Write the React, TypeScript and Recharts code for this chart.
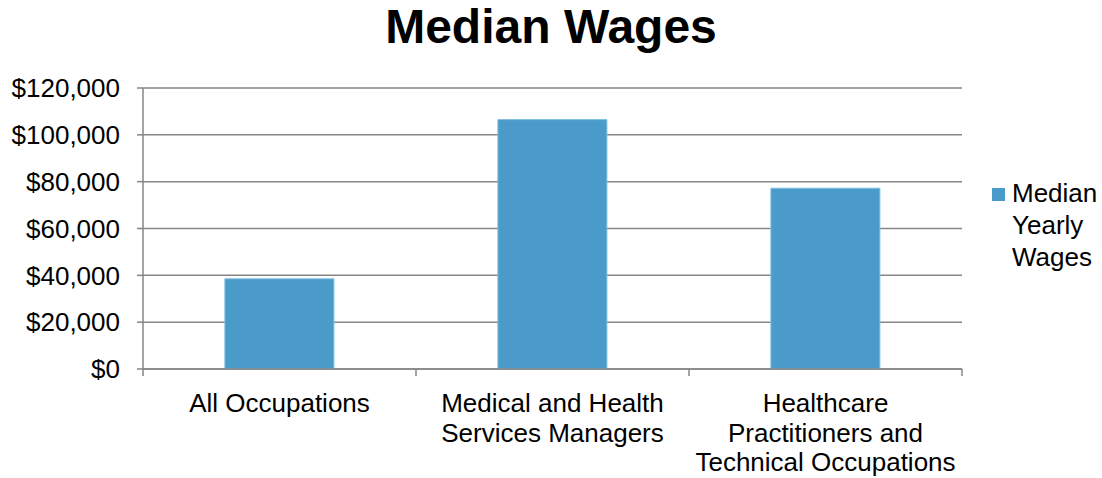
import React from "react";
import { Bar, BarChart, CartesianGrid, XAxis, YAxis } from "recharts";

const categories = [
  "All Occupations",
  "Medical and Health Services Managers",
  "Healthcare Practitioners and Technical Occupations",
];

// wrapped lines as they appear under the axis
const categoryLines = [
  ["All Occupations"],
  ["Medical and Health", "Services Managers"],
  ["Healthcare", "Practitioners and", "Technical Occupations"],
];

const medianWages = [38500, 106500, 77200];

const yTicks = [0, 20000, 40000, 60000, 80000, 100000, 120000];

const seriesName = "Median Yearly Wages";

const FONT = "'Liberation Sans', Arial, sans-serif";
const GRAY = "#868686";
const BLUE = "#4a9bca";

const chartData = categories.map((name, i) => ({
  name,
  value: medianWages[i],
}));

// label lines plus the tick marks that sit on the category boundaries
function CategoryTick(props: any) {
  const { x, y, payload, index } = props;
  const lines = categoryLines[index] || [payload.value];
  const half = payload.offset || 0;
  const isLast = index === categories.length - 1;
  return (
    <g>
      <line x1={x - half} x2={x - half} y1={y} y2={y + 7} stroke={GRAY} strokeWidth={1.5} />
      {isLast && (
        <line x1={x + half} x2={x + half} y1={y} y2={y + 7} stroke={GRAY} strokeWidth={1.5} />
      )}
      {lines.map((line: string, i: number) => (
        <text
          key={i}
          x={x}
          y={y + 43 + i * 29.5}
          textAnchor="middle"
          fontSize={26}
          fontFamily={FONT}
          fill="#000"
        >
          {line}
        </text>
      ))}
    </g>
  );
}

export default function App() {
  return (
    <div
      style={{
        position: "absolute",
        left: 0,
        top: 0,
        width: 1102,
        height: 478,
        background: "#fff",
      }}
    >
      <div
        style={{
          position: "absolute",
          left: 0,
          top: -1,
          width: 1102,
          textAlign: "center",
          fontFamily: FONT,
          fontWeight: "bold",
          fontSize: 48,
          color: "#000",
        }}
      >
        Median Wages
      </div>
      <div
        style={{
          position: "absolute",
          left: 992,
          top: 177,
          display: "flex",
          fontFamily: FONT,
          fontSize: 26,
          color: "#000",
        }}
      >
        <div
          style={{
            width: 13,
            height: 13,
            background: BLUE,
            marginTop: 11,
            marginRight: 7,
          }}
        />
        <div style={{ lineHeight: "32px", width: 100 }}>
          Median
          <br />
          Yearly
          <br />
          Wages
        </div>
      </div>
      <BarChart
        width={1102}
        height={478}
        data={chartData}
        margin={{ top: 88, right: 140, left: 0, bottom: 0 }}
        barCategoryGap="30%"
        style={{ position: "absolute", left: 0, top: 0 }}
      >
        <CartesianGrid vertical={false} stroke={GRAY} strokeWidth={1.5} />
        <XAxis
          dataKey="name"
          tick={<CategoryTick />}
          interval={0}
          height={109}
          tickSize={0}
          tickMargin={0}
          axisLine={{ stroke: GRAY, strokeWidth: 1.5 }}
          tickLine={false}
        />
        <YAxis
          domain={[0, 120000]}
          ticks={yTicks}
          width={143}
          stroke={GRAY}
          strokeWidth={1.5}
          tickSize={6}
          tickMargin={17}
          tick={{ fill: "#000", fontSize: 26, fontFamily: FONT }}
          tickFormatter={(v: number) => "$" + v.toLocaleString("en-US")}
          interval={0}
        />
        <Bar
          dataKey="value"
          name={seriesName}
          fill={BLUE}
          stroke="#7cbde0"
          strokeWidth={1}
          isAnimationActive={false}
        />
      </BarChart>
    </div>
  );
}
